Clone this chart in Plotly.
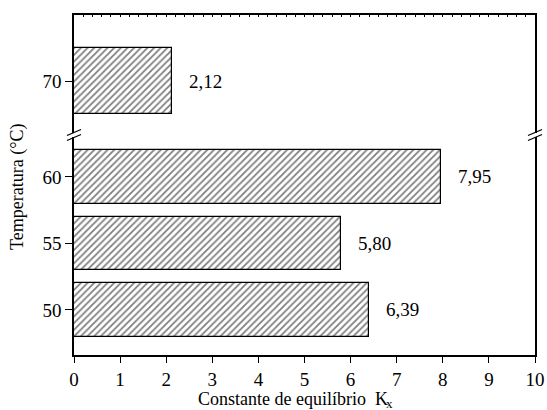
import plotly.graph_objects as go

temps = [50, 55, 60, 70]
kx = [6.39, 5.80, 7.95, 2.12]
labels = ["6,39", "5,80", "7,95", "2,12"]
x_ticks = list(range(0, 11))

low_t = [t for t in temps if t < 65]
low_k = [k for t, k in zip(temps, kx) if t < 65]
up_t = [t for t in temps if t > 65]
up_k = [k for t, k in zip(temps, kx) if t > 65]

FONT = "Liberation Serif"
W, H = 547, 410
L, R, T, B = 74, 535, 15, 355

def px(x):
    return (x - L) / (R - L)

def py(y):
    return (B - y) / (B - T)

pattern = dict(shape="/", size=4.7, solidity=0.38, fgcolor="black", bgcolor="white")

fig = go.Figure()
fig.add_trace(go.Bar(x=low_k, y=low_t, orientation="h", width=4,
                     marker=dict(color="white", pattern=pattern, line=dict(color="black", width=1.2)),
                     xaxis="x", yaxis="y", showlegend=False, hoverinfo="skip"))
fig.add_trace(go.Bar(x=up_k, y=up_t, orientation="h", width=4,
                     marker=dict(color="white", pattern=pattern, line=dict(color="black", width=1.2)),
                     xaxis="x2", yaxis="y2", showlegend=False, hoverinfo="skip"))

for t, k, lab in zip(temps, kx, labels):
    yref = "y2" if t > 65 else "y"
    xref = "x2" if t > 65 else "x"
    fig.add_annotation(x=k, y=t, xref=xref, yref=yref, text=lab, showarrow=False,
                       xanchor="left", xshift=15, font=dict(family=FONT, size=19, color="black"))

low_dom = [0, py(137)]
up_dom = [py(133), 1]

axis_common = dict(showline=True, linecolor="black", linewidth=1.5, showgrid=False, zeroline=False,
                   automargin=False, tickfont=dict(family=FONT, size=19, color="black"))

fig.update_layout(
    width=W, height=H,
    margin=dict(l=L, r=W - R, t=T, b=H - B, autoexpand=False),
    plot_bgcolor="white", paper_bgcolor="white",
    bargap=0,
    font=dict(family=FONT),
    xaxis=dict(range=[0, 10], domain=[0, 1], anchor="y", tickmode="array", tickvals=x_ticks,
               ticks="outside", ticklen=6, tickwidth=1.2, tickcolor="black", **axis_common),
    xaxis2=dict(range=[0, 10], domain=[0, 1], anchor="y2", side="top", overlaying="x",
                tickmode="linear", tick0=0, dtick=0.2, ticks="inside", ticklen=2, tickwidth=1,
                tickcolor="black", showticklabels=False, **axis_common),
    yaxis=dict(range=[46.617, 63.0], domain=low_dom, anchor="x", tickmode="array", tickvals=low_t,
               ticks="outside", ticklen=7, tickwidth=1.2, tickcolor="black", mirror=True, **axis_common),
    yaxis2=dict(range=[66.85, 74.0], domain=up_dom, anchor="x", tickmode="array", tickvals=up_t,
                ticks="outside", ticklen=7, tickwidth=1.2, tickcolor="black", mirror=True, **axis_common),
)

fig.add_annotation(x=px(390), y=py(399), xref="paper", yref="paper", xanchor="right", yanchor="middle",
                   text="Constante de equilíbrio  K", showarrow=False,
                   font=dict(family=FONT, size=18, color="black"))
fig.add_annotation(x=px(384), y=py(403), xref="paper", yref="paper", xanchor="left", yanchor="middle",
                   text="x", showarrow=False,
                   font=dict(family=FONT, size=13, color="black"))
fig.add_annotation(x=px(17), y=py(187), xref="paper", yref="paper", text="Temperatura (°C)",
                   xanchor="center", yanchor="middle",
                   textangle=-90, showarrow=False, font=dict(family=FONT, size=18, color="black"))

for cx in (L, R):
    for dy in (-2.5, 2.5):
        fig.add_shape(type="line", xref="paper", yref="paper",
                      x0=px(cx - 7), y0=py(135 + dy + 3), x1=px(cx + 7), y1=py(135 + dy - 3),
                      line=dict(color="black", width=1.3))

fig.write_html("out.html")
